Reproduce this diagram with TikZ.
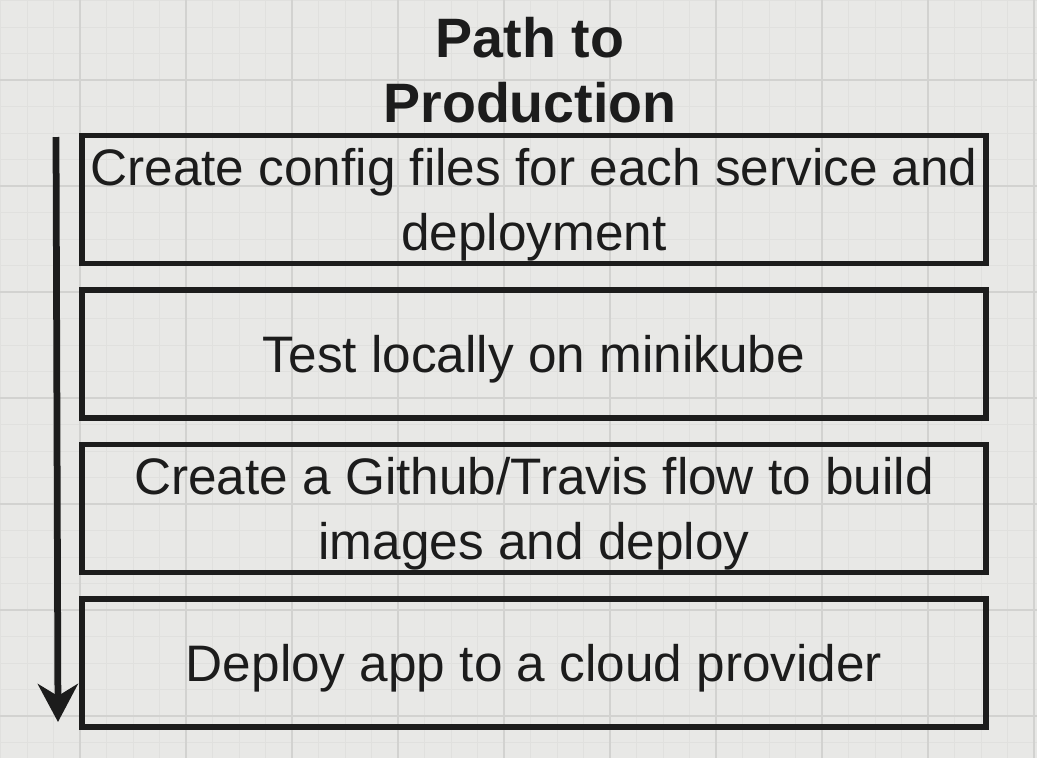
\documentclass[tikz,border=0pt]{standalone}
\usepackage{fontspec}
\setmainfont{Liberation Sans}
\usetikzlibrary{positioning,arrows.meta}

\definecolor{screen}{HTML}{E8E8E6}
\definecolor{gridminor}{HTML}{E0E0DE}
\definecolor{gridmajor}{HTML}{D2D2D0}
\definecolor{ink}{HTML}{1C1C1C}

\tikzset{
  stepbox/.style={draw=ink, line width=4pt, minimum width=22.6cm, minimum height=3.2cm,
    inner sep=0pt, text depth=0pt, align=center, text=ink, font=\fontsize{36.5}{46}\selectfont},
  titletext/.style={align=center, text=ink, font=\fontsize{39.5}{46}\selectfont\bfseries},
}

\begin{document}
\begin{tikzpicture}[x=0.025cm, y=-0.025cm]
        \useasboundingbox (0,0) rectangle (1037,758);

        % Screen background with grid
        \fill[screen] (0,0) rectangle (1037,758);
        \foreach \i in {0,...,39} {
            \draw[gridminor, line width=0.5pt] ({0.5+26.5*\i},0) -- ({0.5+26.5*\i},758); % vertical
            \draw[gridminor, line width=0.5pt] (0,{0.5+26.5*\i}) -- (1037,{0.5+26.5*\i}); % horizontal
        }
        \foreach \i in {0,...,10} {
            \draw[gridmajor, line width=0.8pt] ({-26+106*\i},0) -- ({-26+106*\i},758);
            \draw[gridmajor, line width=0.8pt] (0,{-26+106*\i}) -- (1037,{-26+106*\i});
        }

        % Title
        \node[titletext] (title) at (530,70) {Path to\\Production};

        % Steps, top to bottom
        \node[stepbox] (config) at (534,199.5) {Create config files for each service and\\deployment};
        \node[stepbox, below=0.52cm of config] (minikube) {Test locally on minikube};
        \node[stepbox, below=0.52cm of minikube] (travis) {Create a Github/Travis flow to build\\images and deploy};
        \node[stepbox, below=0.52cm of travis] (cloud) {Deploy app to a cloud provider};

        % Arrow down the left side
        \coordinate (arrowtop) at (56,137);
        \coordinate (arrowtip) at (58,722);
        \draw[ink, line width=4.8pt, -{Stealth[length=0.95cm, width=1cm, inset=0.3cm]}] (arrowtop) -- (arrowtip);

    \end{tikzpicture}
\end{document}
